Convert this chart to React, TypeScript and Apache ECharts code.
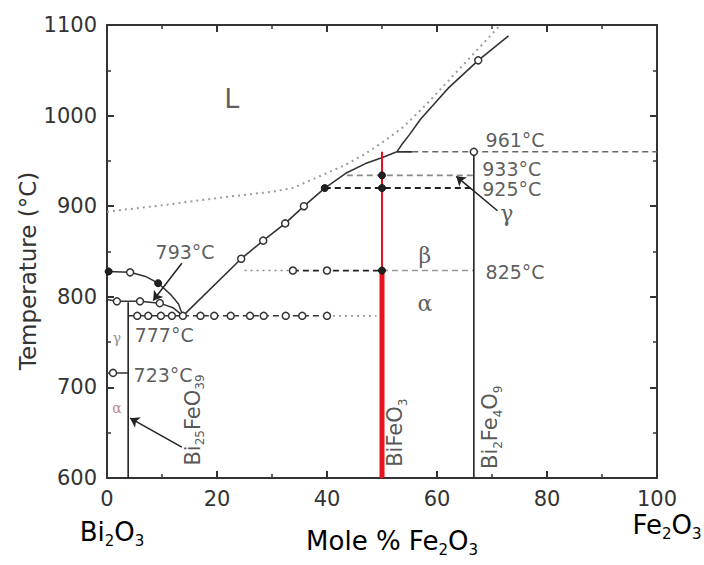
import React, { useEffect, useRef } from "react";
import * as echarts from "echarts";

// ---------- data (mole % Fe2O3, temperature °C) ----------
const X_MIN = 0, X_MAX = 100, X_STEP = 20;
const Y_MIN = 600, Y_MAX = 1100, Y_STEP = 100;

const dottedLiquidus = [[0, 894], [10, 901], [20, 909], [30, 916], [33.8, 920], [36, 926], [39.6, 935.5], [43.3, 945.5], [46.9, 957.6], [50.2, 971], [53.8, 987], [58, 1012], [62, 1038], [66, 1064], [70, 1090], [71.5, 1100]];
const liquidusLow = [[13.8, 779], [24.4, 842], [28.4, 862], [32.4, 881], [35.8, 900], [39.6, 920], [43.6, 937], [47, 947], [50.2, 954], [52.7, 960]];
const liquidusHigh = [[52.7, 960], [53.6, 968], [55, 979], [57, 996], [62, 1030], [67.5, 1061], [73, 1088]];
const liquidusStub = [[52.7, 960], [55.5, 960]];
const iso961 = [[55.5, 960], [100, 960]];
const iso933 = [[43.6, 934], [66.7, 934]];
const iso925 = [[39.6, 920], [66.7, 920]];
const iso825Dotted = [[25, 829], [33.8, 829]];
const iso825Dashed = [[33.8, 829], [50, 829]];
const iso825Gray = [[50, 829], [66.7, 829]];
const iso777Solid = [[3.85, 779], [13.8, 779]];
const iso777Dashed = [[13.8, 779], [40, 779]];
const iso777Dotted = [[40, 779], [49, 779]];
const arcUpper = [[0, 828], [4.2, 827], [7, 822.5], [9.3, 815], [11.5, 803], [13, 792], [13.8, 779]];
const arcLower = [[0, 797], [1.8, 795], [6, 795], [9.6, 793], [12, 788], [13.8, 779]];
const iso723 = [[0, 716], [3.85, 716]];
const lineBi25 = [[3.85, 600], [3.85, 794]];
const lineBi2Fe4 = [[66.7, 600], [66.7, 960]];
const lineBiFeUpper = [[50, 829], [50, 960]];
const lineBiFeLower = [[50, 600], [50, 829]];

const openPoints = [
  [24.4, 842], [28.4, 862], [32.4, 881], [35.8, 900], [67.5, 1061], [66.7, 960],
  [4.2, 827], [1.8, 795], [6, 795], [9.6, 793], [1.1, 716],
  [5.5, 779], [7.5, 779], [9.8, 779], [11.8, 779], [13.8, 779], [17, 779], [19.5, 779],
  [22.5, 779], [26, 779], [28.5, 779], [32.5, 779], [35.5, 779], [40, 779],
  [33.8, 829], [40, 829],
];
const filledPoints = [[39.6, 920], [0.3, 828], [9.3, 815], [50, 829], [50, 934], [50, 920]];

const arrows = [
  [[13.6, 837], [8.4, 796]],
  [[13.6, 634], [4.2, 666]],
  [[71, 895], [63.5, 933]],
];

const tempLabels = [
  { text: "793°C", x: 14.2, t: 850 },
  { text: "777°C", x: 10.4, t: 758 },
  { text: "723°C", x: 10.2, t: 714 },
  { text: "961°C", x: 74.2, t: 973 },
  { text: "933°C", x: 73.6, t: 941 },
  { text: "925°C", x: 73.6, t: 919 },
  { text: "825°C", x: 74.2, t: 827 },
];
const phaseLabels = [
  { text: "β", x: 57.8, t: 846 },
  { text: "α", x: 57.8, t: 793 },
  { text: "γ", x: 72.7, t: 892 },
];
const smallPhaseLabels = [
  { text: "γ", x: 1.8, t: 755, tone: "#707070" },
  { text: "α", x: 1.8, t: 677, tone: "#b0607a" },
];
const compoundLabels = [
  { text: "{n|Bi}{s|25}{n|FeO}{s|39}", x: 16.3, t: 664 },
  { text: "{n|BiFeO}{s|3}", x: 53.1, t: 650 },
  { text: "{n|Bi}{s|2}{n|Fe}{s|4}{n|O}{s|9}", x: 70.4, t: 656 },
];
const liquidLabel = { text: "L", x: 22.7, t: 1019 };

const FONT = "DejaVu Sans";
const SERIF = "DejaVu Serif";
const INK = "#2a2a2a";

function subRich(size: number, sub: number) {
  const lh = size + 8;
  return {
    n: { fontFamily: FONT, fontSize: size, color: INK, lineHeight: lh, verticalAlign: "top" },
    s: { fontFamily: FONT, fontSize: sub, color: INK, lineHeight: lh, verticalAlign: "top", padding: [Math.round(size * 0.55), 0, 0, 0] },
  };
}

function lineSeries(data: number[][], color: string, width: number, type: any, z = 2) {
  return {
    type: "line",
    data,
    symbol: "none",
    silent: true,
    z,
    lineStyle: { color, width, type },
  };
}

export default function App() {
  const ref = useRef<HTMLDivElement>(null);
  useEffect(() => {
    if (!ref.current) return;
    const chart = echarts.init(ref.current, undefined, { renderer: "svg" });
    const axisCommon = {
      type: "value",
      axisLine: { show: true, onZero: false, lineStyle: { color: "#333", width: 2 } },
      axisTick: { show: true, inside: true, length: 7, lineStyle: { color: "#333", width: 2 } },
      minorTick: { show: true, splitNumber: 2, length: 4, lineStyle: { color: "#333", width: 1.5 } },
      splitLine: { show: false },
    };
    const tickLabel = { fontFamily: FONT, fontSize: 21, color: "#333", margin: 10, formatter: (v: number) => String(v) };
    const labelItem = (x: number, t: number, label: any) => ({ value: [x, t], label: { show: true, ...label } });

    const dash = [6, 4];
    const dot = [2, 4];

    const option: any = {
      animation: false,
      grid: { left: 107, right: 47, top: 25, bottom: 87, containLabel: false },
      xAxis: [
        { ...axisCommon, position: "bottom", min: X_MIN, max: X_MAX, interval: X_STEP, axisLabel: tickLabel },
        { ...axisCommon, position: "top", min: X_MIN, max: X_MAX, interval: X_STEP, axisLabel: { show: false } },
      ],
      yAxis: [
        { ...axisCommon, position: "left", min: Y_MIN, max: Y_MAX, interval: Y_STEP, axisLabel: tickLabel },
        { ...axisCommon, position: "right", min: Y_MIN, max: Y_MAX, interval: Y_STEP, axisLabel: { show: false } },
      ],
      series: [
        lineSeries(dottedLiquidus, "#9c9c9c", 2, dot),
        lineSeries(liquidusLow, "#333", 1.6, "solid"),
        lineSeries(liquidusHigh, "#333", 1.6, "solid"),
        lineSeries(liquidusStub, "#333", 1.6, "solid"),
        lineSeries(iso961, "#666", 1.5, dash),
        lineSeries(iso933, "#8a8a8a", 1.8, dash),
        lineSeries(iso925, "#222", 2, dash),
        lineSeries(iso825Dotted, "#8a8a8a", 1.6, dot),
        lineSeries(iso825Dashed, "#222", 1.8, dash),
        lineSeries(iso825Gray, "#9a9a9a", 1.6, dash),
        lineSeries(iso777Solid, "#333", 1.5, "solid"),
        lineSeries(iso777Dashed, "#333", 1.5, dash),
        lineSeries(iso777Dotted, "#9a9a9a", 1.6, dot),
        lineSeries(arcUpper, "#333", 1.5, "solid"),
        lineSeries(arcLower, "#333", 1.5, "solid"),
        lineSeries(iso723, "#333", 1.5, "solid"),
        lineSeries(lineBi25, "#222", 1.6, "solid"),
        lineSeries(lineBi2Fe4, "#222", 1.6, "solid"),
        lineSeries(lineBiFeUpper, "#e8141c", 2, "solid", 3),
        lineSeries(lineBiFeLower, "#e8141c", 5, "solid", 3),
        {
          type: "lines",
          coordinateSystem: "cartesian2d",
          silent: true,
          z: 4,
          symbol: ["none", "arrow"],
          symbolSize: 9,
          lineStyle: { color: "#222", width: 1.5, opacity: 1 },
          data: arrows.map((c) => ({ coords: c })),
        },
        {
          type: "scatter",
          data: openPoints,
          symbol: "circle",
          symbolSize: 7,
          silent: true,
          z: 5,
          itemStyle: { color: "#fff", borderColor: "#333", borderWidth: 1.5, opacity: 1 },
        },
        {
          type: "scatter",
          data: filledPoints,
          symbol: "circle",
          symbolSize: 7,
          silent: true,
          z: 5,
          itemStyle: { color: "#222", borderColor: "#111", borderWidth: 1, opacity: 1 },
        },
        {
          type: "scatter",
          silent: true,
          clip: false,
          z: 6,
          symbolSize: 1,
          itemStyle: { color: "rgba(0,0,0,0)" },
          label: { show: true, position: "inside", align: "center", verticalAlign: "middle" },
          data: [
            labelItem(liquidLabel.x, liquidLabel.t, { formatter: liquidLabel.text, fontFamily: FONT, fontSize: 27, color: "#333" }),
            ...tempLabels.map((l) => labelItem(l.x, l.t, { formatter: l.text, fontFamily: FONT, fontSize: 19, lineHeight: 17, color: "#333" })),
            ...phaseLabels.map((l) => labelItem(l.x, l.t, { formatter: l.text, fontFamily: SERIF, fontSize: 22, lineHeight: 20, color: "#333" })),
            ...smallPhaseLabels.map((l) => labelItem(l.x, l.t, { formatter: l.text, fontFamily: SERIF, fontSize: 14, color: l.tone })),
            ...compoundLabels.map((l) => labelItem(l.x, l.t, { formatter: l.text, rotate: 90, rich: subRich(21, 12) })),
          ],
        },
      ],
      graphic: [
        {
          type: "text",
          x: 28,
          y: 271,
          rotation: Math.PI / 2,
          style: { text: "Temperature (°C)", fontFamily: FONT, fontSize: 23, fill: "#333", align: "center", verticalAlign: "middle" },
        },
        {
          type: "text",
          x: 112,
          y: 536,
          style: { text: "{n|Bi}{s|2}{n|O}{s|3}", rich: subRich(26, 15), align: "center", verticalAlign: "middle" },
        },
        {
          type: "text",
          x: 392,
          y: 545,
          style: { text: "{n|Mole % Fe}{s|2}{n|O}{s|3}", rich: subRich(26, 15), align: "center", verticalAlign: "middle" },
        },
        {
          type: "text",
          x: 667,
          y: 529,
          style: { text: "{n|Fe}{s|2}{n|O}{s|3}", rich: subRich(26, 15), align: "center", verticalAlign: "middle" },
        },
      ],
    };
    chart.setOption(option);
    return () => chart.dispose();
  }, []);
  return <div ref={ref} style={{ position: "fixed", left: 0, top: 0, width: 704, height: 565, background: "#fff" }} />;
}
